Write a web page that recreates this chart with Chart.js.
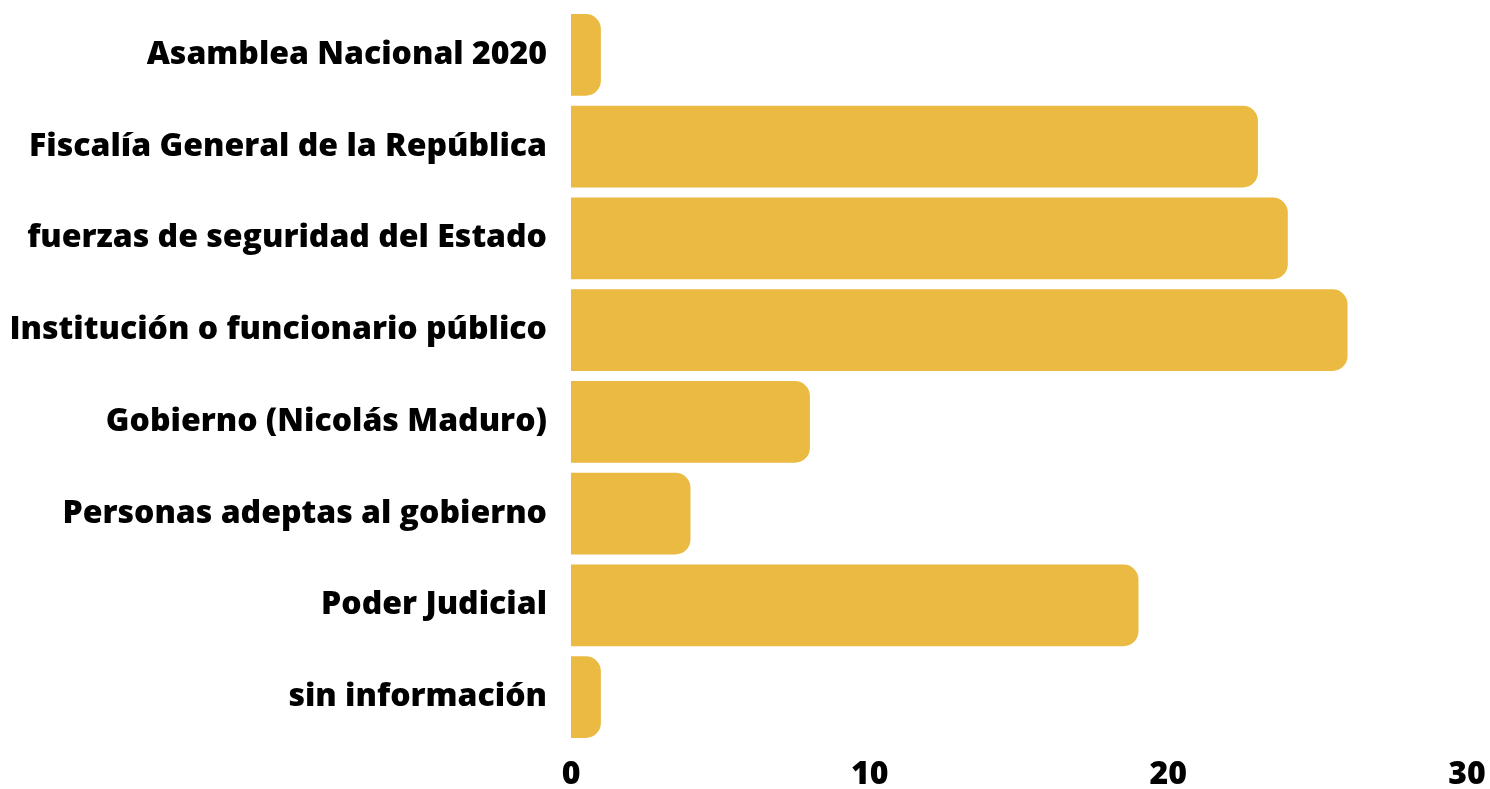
<!DOCTYPE html>
<html>
<head>
<meta charset="utf-8">
<script src="https://cdn.jsdelivr.net/npm/chart.js@4/dist/chart.umd.min.js"></script>
<style>
	html, body { margin: 0; padding: 0; background: #fff; }
	#wrap { width: 1490px; height: 789px; }
</style>
</head>
<body>
<div id="wrap"><canvas id="chart"></canvas></div>
<script>
const categories = [
	'Asamblea Nacional 2020',
	'Fiscalía General de la República',
	'fuerzas de seguridad del Estado',
	'Institución o funcionario público',
	'Gobierno (Nicolás Maduro)',
	'Personas adeptas al gobierno',
	'Poder Judicial',
	'sin información'
];
const values = [1, 23, 24, 26, 8, 4, 19, 1];
const xTicks = [0, 10, 20, 30];

const labelFont = { family: 'Open Sans', size: 32, weight: 800, lineHeight: 1 };

const ctx = document.getElementById('chart').getContext('2d');
const chart = new Chart(ctx, {
	type: 'bar',
	data: {
		labels: categories,
		datasets: [{
			data: values,
			backgroundColor: '#EABA42',
			borderRadius: 15,
			borderSkipped: 'start',
			barPercentage: 0.89,
			categoryPercentage: 1
		}]
	},
	options: {
		indexAxis: 'y',
		responsive: true,
		maintainAspectRatio: false,
		animation: false,
		layout: { padding: { top: 9, right: 23, left: 0, bottom: -10 } },
		plugins: {
			legend: { display: false },
			tooltip: { enabled: false }
		},
		scales: {
			x: {
				min: 0,
				max: 30,
				afterBuildTicks: (axis) => { axis.ticks = xTicks.map(v => ({ value: v })); },
				afterFit: (s) => { s.paddingLeft = 0; s.paddingRight = 0; },
				grid: { display: false },
				border: { display: false },
				ticks: {
					color: '#000',
					padding: 8,
					maxRotation: 0,
					font: labelFont
				}
			},
			y: {
				// keep the label column at a fixed width, no extra top/bottom padding
				afterFit: (s) => { s.width = 571; s.paddingTop = 0; s.paddingBottom = 0; },
				grid: { display: false },
				border: { display: false },
				ticks: {
					color: '#000',
					padding: 16,
					font: labelFont
				}
			}
		}
	}
});
</script>
</body>
</html>
